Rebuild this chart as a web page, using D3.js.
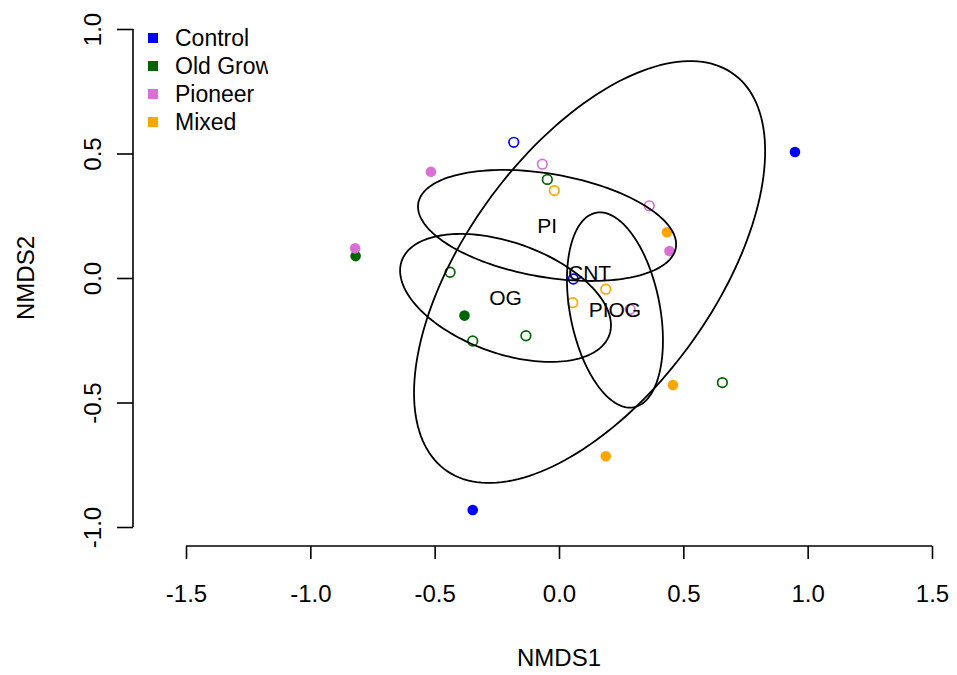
<!DOCTYPE html>
<html><head><meta charset="utf-8">
<script src="https://cdn.jsdelivr.net/npm/d3@7"></script>
<style>body{margin:0;background:#fff}svg{display:block}text{font-family:"Liberation Sans",Arial,sans-serif;fill:#000}</style>
</head><body><svg id="c" width="957" height="675"></svg>
<script>
// --- data ---
const groups = ["Control", "Old Growth", "Pioneer", "Mixed"];
const groupColors = ["#0000FF", "#006400", "#DA70D6", "#FFA500"];
const nmds1 = [0.949, -0.347, -0.182, 0.0575, -0.818, -0.380, -0.047, -0.438, -0.347, -0.133, 0.657, -0.515, -0.820, 0.444, -0.067, 0.363, 0.286, 0.434, 0.458, 0.188, -0.019, 0.188, 0.055];
const nmds2 = [0.506, -0.932, 0.545, -0.004, 0.088, -0.151, 0.396, 0.023, -0.253, -0.232, -0.420, 0.427, 0.119, 0.108, 0.457, 0.290, -0.126, 0.184, -0.430, -0.716, 0.351, -0.045, -0.099];
const pointGroup = ["Control","Control","Control","Control","Old Growth","Old Growth","Old Growth","Old Growth","Old Growth","Old Growth","Old Growth","Pioneer","Pioneer","Pioneer","Pioneer","Pioneer","Pioneer","Mixed","Mixed","Mixed","Mixed","Mixed","Mixed"];
const pointFilled = [1,1,0,0,1,1,0,0,0,0,0,1,1,1,0,0,0,1,1,1,0,0,0];
// ellipses: label, centre, sd along axes, correlation
const ellLabels = ["CNT", "PI", "OG", "PIOG"];
const ellCx = [0.123, -0.048, -0.215, 0.225];
const ellCy = [0.024, 0.211, -0.080, -0.1285];
const ellSdx = [0.706, 0.519, 0.424, 0.193];
const ellSdy = [0.847, 0.223, 0.257, 0.392];
const ellR = [0.573, -0.339, -0.427, -0.312];
const xTicks = [-1.5, -1.0, -0.5, 0.0, 0.5, 1.0, 1.5];
const yTicks = [-1.0, -0.5, 0.0, 0.5, 1.0];

// --- drawing ---
const svg = d3.select("#c");
const x = d3.scaleLinear().domain([-1.5, 1.5]).range([186, 932]);
const y = d3.scaleLinear().domain([-1, 1]).range([527, 29]);
const color = d3.scaleOrdinal().domain(groups).range(groupColors);
const fs = 24;
const fmt = d => d.toFixed(1);

// x axis
const xa = svg.append("g").attr("transform","translate(0,546)")
  .call(d3.axisBottom(x).tickValues(xTicks).tickSize(13).tickSizeOuter(0).tickFormat(fmt));
xa.select(".domain").attr("stroke","#000").attr("stroke-width",1.6).attr("d",`M${x(-1.5)},0H${x(1.5)}`);
xa.selectAll(".tick line").attr("stroke-width",1.6);
xa.selectAll(".tick text").attr("font-size",fs).attr("font-family","Liberation Sans, Arial, sans-serif").attr("dy",null).attr("y",56);

// y axis
const ya = svg.append("g").attr("transform","translate(133,0)")
  .call(d3.axisLeft(y).tickValues(yTicks).tickSize(16).tickSizeOuter(0).tickFormat(fmt));
ya.select(".domain").attr("stroke","#000").attr("stroke-width",1.6).attr("d",`M0,${y(-1)}V${y(1)}`);
ya.selectAll(".tick line").attr("stroke-width",1.6);
ya.selectAll(".tick text").attr("font-size",fs).attr("font-family","Liberation Sans, Arial, sans-serif")
  .attr("x",null).attr("dy",null).attr("text-anchor","middle")
  .attr("transform","translate(-38,0) rotate(-90)").attr("y",0).attr("dominant-baseline","middle");

svg.append("text").attr("x",x(0)).attr("y",666).attr("text-anchor","middle").attr("font-size",fs).text("NMDS1");
svg.append("text").attr("transform",`translate(34,${y(0)}) rotate(-90)`).attr("text-anchor","middle").attr("font-size",fs).text("NMDS2");

// points
const pts = nmds1.map((v,i)=>({x:v,y:nmds2[i],g:pointGroup[i],f:pointFilled[i]}));
svg.append("g").selectAll("circle").data(pts).join("circle")
  .attr("cx",d=>x(d.x)).attr("cy",d=>y(d.y))
  .attr("r",d=>d.f?5.3:4.8)
  .attr("fill",d=>d.f?color(d.g):"none")
  .attr("stroke",d=>d.f?"none":color(d.g))
  .attr("stroke-width",1.7);

// ellipses
const ells = ellLabels.map((l,i)=>({l,cx:ellCx[i],cy:ellCy[i],sx:ellSdx[i],sy:ellSdy[i],r:ellR[i]}));
const line = d3.line().x(d=>x(d[0])).y(d=>y(d[1])).curve(d3.curveLinearClosed);
svg.append("g").selectAll("path").data(ells).join("path")
  .attr("d",e=>line(d3.range(0,360,2).map(a=>{const t=a*Math.PI/180;
     return [e.cx+e.sx*Math.cos(t), e.cy+e.sy*(e.r*Math.cos(t)+Math.sqrt(1-e.r*e.r)*Math.sin(t))];})))
  .attr("fill","none").attr("stroke","#000").attr("stroke-width",1.8);
svg.append("g").selectAll("text").data(ells).join("text")
  .attr("x",e=>x(e.cx)).attr("y",e=>y(e.cy)).attr("text-anchor","middle").attr("dominant-baseline","central")
  .attr("font-size",21).text(e=>e.l);

// legend (text clipped as in reference)
svg.append("clipPath").attr("id","legclip").append("rect").attr("x",0).attr("y",0).attr("width",268).attr("height",200);
const lg = svg.append("g").attr("clip-path","url(#legclip)");
groups.forEach((g,i)=>{
  const cy = 38 + i*28;
  lg.append("rect").attr("x",148).attr("y",cy-5).attr("width",10).attr("height",10).attr("fill",color(g));
  lg.append("text").attr("x",175).attr("y",cy).attr("dominant-baseline","central").attr("font-size",23).text(g);
});
</script></body></html>
